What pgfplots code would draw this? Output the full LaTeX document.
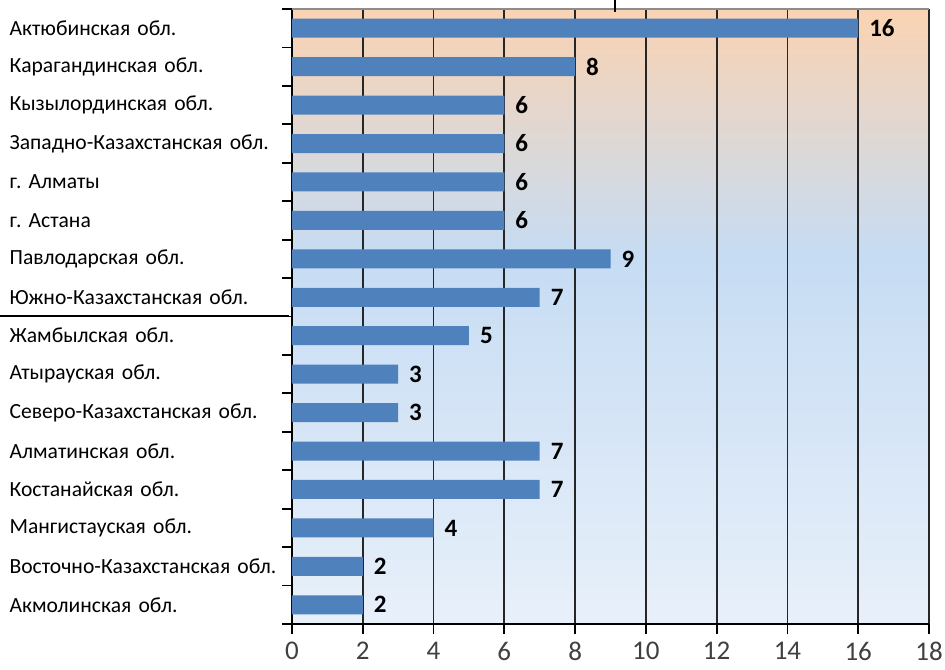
\documentclass[border=0pt]{standalone}
\usepackage{fontspec}
\setmainfont{Carlito}
\usepackage{pgfplots}
\pgfplotsset{compat=1.18}
\definecolor{barblue}{RGB}{79,129,189}
\definecolor{bgtop}{RGB}{250,211,178}
\definecolor{bgmid}{RGB}{198,220,243}
\definecolor{bgbot}{RGB}{232,240,250}
\pgfdeclareverticalshading{bgshade}{100bp}{color(0bp)=(bgbot); color(25bp)=(bgbot); color(55bp)=(bgmid); color(75bp)=(bgtop); color(100bp)=(bgtop)}
\frenchspacing
\begin{document}
\begin{tikzpicture}
\useasboundingbox (-146pt,-22.5pt) rectangle (326.5pt,312pt);
\begin{axis}[
  at={(0,0)}, anchor=south west,
  scale only axis,
  width=318.5pt, height=307.5pt,
  xbar, bar width=9.5pt,
  xmin=0, xmax=18,
  ymin=-0.5, ymax=15.5,
  y dir=reverse,
  axis background/.style={shading=bgshade},
  axis x line*=bottom, axis y line*=left,
  axis line style={-, black, line width=1pt},
  xtick={0,2,...,18},
  xmajorgrids,
  grid style={black!85, line width=0.9pt},
  tick align=outside,
  major tick length=5pt,
  xtick style={black, line width=0.9pt},
  ytick={0,...,15},
  major y tick style={draw=none},
  minor ytick={-0.5,0.5,...,15.5},
  minor y tick style={draw=black, line width=0.9pt},
  minor tick length=5pt,
  yticklabels={Актюбинская обл.,Карагандинская обл.,Кызылординская обл.,Западно-Казахстанская обл.,г. Алматы,г. Астана,Павлодарская обл.,Южно-Казахстанская обл.,Жамбылская обл.,Атырауская обл.,Северо-Казахстанская обл.,Алматинская обл.,Костанайская обл.,Мангистауская обл.,Восточно-Казахстанская обл.,Акмолинская обл.},
  yticklabel style={font=\fontsize{10.8}{12}\selectfont, text=black, text width=136pt, inner sep=0pt, align=left},
  xticklabel style={font=\fontsize{13.5}{15}\selectfont, text=black!75, yshift=-0.5pt},
  /pgf/number format/assume math mode=true,
  nodes near coords,
  every node near coord/.append style={font=\bfseries\fontsize{12.5}{14}\selectfont, text=black, xshift=2pt},
  clip=false,
]
\addplot[fill=barblue, draw=none] coordinates {
  (16,0) (8,1) (6,2) (6,3) (6,4) (6,5) (9,6) (7,7)
  (5,8) (3,9) (3,10) (7,11) (7,12) (4,13) (2,14) (2,15)
};
\end{axis}
\draw[black!45, line width=0.6pt] (0,307.5pt) -- (318.5pt,307.5pt);
\draw[black, line width=0.9pt] (-146pt,154pt) -- (-1.5pt,154pt);
\draw[black, line width=0.9pt] (161.5pt,312pt) -- (161.5pt,306pt);
\end{tikzpicture}
\end{document}
